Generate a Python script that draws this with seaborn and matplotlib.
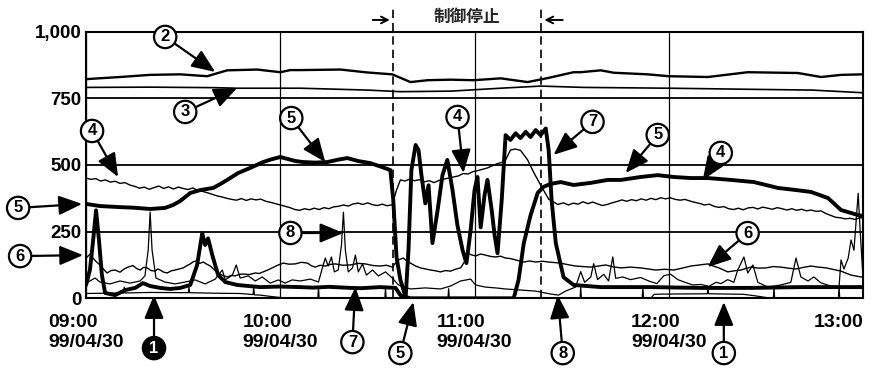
import matplotlib
matplotlib.use("Agg")
import matplotlib.pyplot as plt
import seaborn as sns
import pandas as pd

# ---------------- data (minutes after 09:00, value) ----------------
tick_minutes = [0, 60, 120, 180, 240]
tick_labels = ["09:00\n99/04/30", "10:00\n99/04/30", "11:00\n99/04/30",
               "12:00\n99/04/30", "13:00"]
y_ticks = [0, 250, 500, 750, 1000]
y_tick_labels = ["0", "250", "500", "750", "1,000"]

stop_start = 94.9   # 制御停止 begins (about 10:35)
stop_end = 140.4    # 制御停止 ends (about 11:20)
stop_title = "制御停止"

series_2 = [(0, 822), (10.5, 830), (19.8, 838), (29.1, 840), (37.4, 833), (43.6, 855),
            (52.9, 858), (60, 848), (63.1, 856), (66.2, 856), (78.6, 858), (86.9, 847),
            (94.6, 840), (100.2, 811), (105.5, 818), (112.6, 820), (119.7, 818),
            (128.1, 825), (136.4, 811), (142.6, 826), (150.6, 848), (152.8, 848),
            (159.0, 855), (163.0, 846), (173.5, 840), (180.0, 833), (192.1, 830),
            (204.4, 848), (219.9, 845), (227.0, 830), (233.2, 838), (240, 840)]

series_3 = [(0, 791), (20, 792), (40, 790), (46.7, 788), (66.2, 788), (86.9, 781),
            (97.1, 775), (112.6, 777), (128.1, 788), (140.4, 796), (153.7, 791),
            (180, 788), (204.4, 784), (224.2, 781), (240, 771)]

series_4 = [(0, 451), (1.5, 446), (3, 449), (4.5, 440), (6, 444), (7.5, 436), (9, 439),
            (10.5, 431), (12, 434), (13.5, 425), (15, 420), (16.5, 413), (18, 417),
            (19.5, 409), (21, 415), (22.5, 421), (24, 412), (25.5, 418), (27, 410),
            (28.5, 417), (30, 412), (31.5, 408), (33, 414), (34.5, 404), (36, 401),
            (37.5, 396), (39, 390), (40.5, 384), (42, 380), (43.5, 375), (45, 371),
            (46.5, 368), (48, 374), (49.5, 367), (51, 373), (52.5, 369), (54, 372),
            (55.5, 364), (57, 360), (58.5, 355), (60, 350), (61.5, 345), (63, 340),
            (64.5, 333), (66, 330), (67.5, 336), (69, 332), (70.5, 338), (72, 333),
            (73.5, 340), (75, 336), (76.5, 343), (78, 345), (79.5, 350), (81, 346),
            (82.5, 354), (84, 357), (85.5, 352), (87, 358), (88.5, 351), (90, 348),
            (91.5, 353), (93, 347), (94.6, 351), (95.9, 406), (97.1, 444), (98.5, 440),
            (100, 447), (101.5, 441), (103, 445), (104.5, 437), (106, 441), (107.5, 434),
            (109, 442), (110.5, 447), (112, 451), (113.5, 455), (115, 459), (116.5, 468),
            (118, 466), (119.5, 475), (121, 479), (122.5, 484), (124, 489), (125.5, 497),
            (127, 505), (128.5, 510), (129.6, 519), (131.1, 556), (132.5, 560),
            (134.2, 555), (136.4, 519), (138.2, 474), (140.4, 425), (142.9, 372),
            (145.7, 352), (147.5, 358), (149, 350), (150.5, 357), (152, 353), (153.5, 362),
            (155, 355), (156.5, 361), (158, 354), (159.5, 348), (161, 352), (162.5, 358),
            (164, 363), (165.5, 369), (167, 364), (168.5, 370), (170, 366), (171.5, 373),
            (173, 368), (174.5, 375), (176, 370), (177.5, 377), (179, 373), (180.5, 377),
            (182, 371), (183.5, 368), (185, 371), (186.5, 365), (188, 360), (189.5, 356),
            (191, 350), (192.5, 353), (194, 345), (195.5, 341), (197, 344), (198.5, 336),
            (200, 333), (201.5, 338), (203, 332), (204.5, 339), (206, 341), (207.5, 335),
            (209, 342), (210.5, 338), (212, 334), (213.5, 340), (215, 336), (216.5, 331),
            (218, 336), (219.5, 330), (221, 334), (222.5, 328), (224, 331), (225.5, 326),
            (227, 328), (228.5, 318), (230, 311), (231.5, 304), (233, 302), (234.5, 298),
            (236, 300), (237.5, 296), (239, 302), (240, 301)]

series_5 = [(0, 354), (4.3, 346), (10.5, 342), (14.5, 340), (19.8, 335), (24.4, 339),
            (26.9, 350), (29.1, 365), (32.2, 395), (35.3, 406), (39.3, 414), (41.4, 428),
            (43.6, 444), (47.0, 470), (50.7, 489), (54.7, 511), (56.9, 520), (60.0, 530),
            (64.6, 515), (67.1, 511), (70.8, 509), (74.5, 511), (77.9, 520), (80.7, 526),
            (84.0, 515), (87.8, 507), (91.5, 492), (94.0, 481), (94.9, 369), (95.9, 155),
            (97.1, 69), (98.7, 5), (100.2, 0), (132.1, 0), (133.6, 69), (135.2, 206),
            (137.3, 311), (139.5, 395), (141.3, 418), (143.5, 429), (146.6, 436),
            (150.6, 425), (155.9, 433), (161.1, 444), (165.2, 444), (171.3, 455),
            (176.6, 462), (181.5, 455), (186.8, 451), (192.1, 451), (199.2, 444),
            (206.3, 436), (210.0, 425), (213.7, 414), (219.3, 406), (223.9, 399),
            (229.2, 376), (233.2, 331), (236.3, 320), (238.5, 312), (240, 309)]

series_6 = [(0, 151), (1.2, 165), (2.2, 150), (3.1, 138), (4.3, 125), (5.5, 108), (6.5, 95),
            (7.7, 104), (9, 106), (10.5, 98), (11.8, 110), (13, 117), (14.5, 123),
            (15.6, 112), (16.7, 106), (17.8, 116), (18.9, 114), (20.1, 104), (21.3, 102),
            (22.2, 110), (22.9, 106), (24, 98), (25.1, 95), (26.3, 103), (27.5, 106),
            (28.7, 110), (30, 114), (31.1, 122), (32.2, 129), (33.1, 137), (34, 140),
            (35.1, 131), (36.2, 136), (37.3, 128), (38.4, 121), (39.6, 107), (40.8, 95),
            (42.2, 86), (43.6, 80), (44.9, 86), (46.1, 84), (47.4, 90), (48.6, 91),
            (50.4, 89), (52.3, 95), (53.5, 93), (54.7, 99), (56.1, 106), (57.5, 114),
            (59.2, 124), (60.9, 132), (62.7, 128), (64.6, 129), (66.5, 135), (68.4, 132),
            (69.6, 122), (70.8, 117), (72.3, 124), (73.9, 121), (75.4, 127), (77, 129),
            (79.3, 124), (81.7, 125), (84, 131), (86.3, 129), (88.6, 123), (90.9, 121),
            (92.8, 124), (94.6, 117), (95.6, 132), (96.5, 144), (98, 151), (99.1, 140),
            (100.2, 132), (101.8, 121), (103.3, 114), (104.9, 110), (106.4, 106),
            (108, 103), (109.5, 99), (111, 104), (112.6, 102), (114.1, 109), (115.7, 114),
            (116.8, 135), (117.8, 170), (119, 163), (120.3, 159), (121.9, 166),
            (123.4, 162), (125, 157), (126.5, 155), (128, 158), (129.6, 151),
            (131.1, 149), (132.7, 144), (134, 140), (135.2, 136), (137, 140),
            (138.9, 136), (140.9, 139), (142.9, 136), (144.8, 134), (146.6, 132),
            (148.9, 126), (151.2, 121), (153.5, 119), (155.9, 117), (158.2, 121),
            (160.5, 125), (162.8, 118), (165.2, 114), (168.2, 117), (171.3, 114),
            (173.6, 110), (176, 106), (178.8, 109), (181.5, 106), (184.1, 113),
            (186.8, 121), (189.5, 125), (192.1, 129), (193.8, 121), (195.5, 114),
            (196.9, 106), (198.2, 99), (200.2, 103), (202.3, 106), (203.8, 112),
            (205.4, 117), (207.7, 113), (210, 114), (212.3, 119), (214.6, 117),
            (217, 113), (219.3, 110), (221.6, 116), (223.9, 121), (226.2, 117),
            (228.6, 114), (230.9, 108), (233.2, 102), (234.8, 94), (236.3, 87),
            (238, 83), (239.4, 80), (240, 80)]

series_7 = [(0, 50), (1.2, 106), (2.2, 218), (3.1, 330), (4.0, 218), (4.9, 87), (5.9, 20),
            (9.0, 12), (12.1, 31), (15.2, 39), (17.6, 57), (19.8, 46), (22.9, 39),
            (26.0, 35), (29.1, 39), (32.2, 50), (34.3, 124), (35.9, 244), (36.8, 200),
            (37.7, 225), (39.0, 162), (40.8, 87), (43.0, 61), (46.7, 50), (53.8, 42),
            (60, 44), (66.2, 42), (70, 40), (75, 43), (81.7, 39), (85, 38), (90.9, 42),
            (95.6, 39), (97.1, 12), (98.7, 0), (99.6, 181), (100.5, 481), (101.8, 575),
            (102.7, 556), (103.6, 462), (104.8, 356), (105.8, 424), (107.0, 207),
            (108.6, 331), (110.1, 462), (111.6, 519), (113.2, 406), (114.7, 275),
            (116.3, 181), (117.5, 132), (118.8, 256), (120.0, 406), (120.9, 455),
            (121.9, 266), (123.1, 387), (124.0, 444), (125.3, 331), (126.2, 237),
            (127.1, 169), (128.4, 369), (129.6, 612), (131.1, 594), (132.7, 619),
            (134.2, 601), (135.8, 624), (137.3, 605), (138.9, 631), (140.4, 612),
            (142.0, 637), (142.9, 556), (143.8, 369), (145.1, 207), (147.5, 79),
            (150.6, 50), (159.0, 42), (174.4, 42), (189.9, 39), (205.4, 39),
            (220.8, 42), (240, 42)]

series_8 = [(0, 57), (2.8, 76), (4.3, 61), (7.4, 54), (10.5, 65), (13.6, 57), (16.7, 65),
            (18.2, 84), (19.2, 181), (19.8, 323), (20.4, 181), (21.6, 76), (24.4, 61),
            (27.5, 54), (30.6, 61), (33.7, 69), (36.8, 54), (39.9, 72), (42.1, 106),
            (43.0, 69), (45.2, 87), (46.4, 125), (47.6, 76), (50.1, 84), (52.3, 65),
            (54.4, 80), (56.9, 57), (59.4, 69), (61.5, 57), (63.7, 69), (66.2, 65),
            (69.3, 72), (71.8, 61), (73.0, 114), (73.9, 151), (74.8, 121), (75.8, 155),
            (76.7, 99), (77.9, 106), (78.9, 200), (79.5, 323), (80.1, 181), (81.0, 99),
            (82.3, 114), (83.2, 162), (84.1, 99), (85.4, 129), (86.6, 87), (88.5, 106),
            (90.3, 84), (92.5, 99), (94.6, 76), (96.5, 50), (100.2, 35), (104.8, 39),
            (109.5, 35), (112.6, 46), (115.7, 65), (118.8, 72), (120.3, 50), (123.4, 42),
            (126.5, 39), (129.6, 35), (134.2, 31), (138.9, 27), (143.5, 16), (146.0, 12),
            (148.1, 27), (151.2, 42), (152.8, 100), (154.0, 60), (155.9, 80), (156.8, 130),
            (158.0, 70), (159.9, 90), (161.4, 65), (162.7, 155), (163.6, 75), (165.8, 80),
            (168.2, 70), (171.3, 78), (173.8, 65), (176.3, 55), (178.5, 85), (180.6, 90),
            (182.8, 70), (185.0, 60), (187.4, 50), (189.9, 52), (192.4, 45), (194.6, 60),
            (196.1, 55), (198.2, 70), (200.1, 60), (201.3, 106), (203.2, 155),
            (204.4, 95), (206.0, 125), (207.5, 60), (210.6, 42), (214.6, 50),
            (217.7, 60), (219.3, 151), (220.8, 80), (223.0, 65), (224.8, 80),
            (227.0, 58), (231.0, 42), (232.6, 45), (233.2, 144), (234.1, 110),
            (235.4, 150), (236.3, 219), (237.2, 180), (238.5, 394), (239.1, 256),
            (239.9, 95)]

series_1 = [(0, 18), (5, 19), (11.6, 20), (11.8, 42), (12.0, 20), (20, 22), (31.6, 21),
            (31.8, 42), (32.0, 21), (40, 19), (47.6, 18), (51.6, 14), (51.8, 42),
            (52.0, 13), (53.8, 12), (57, 7), (60, 3), (64, 0), (71.6, 0), (71.8, 42),
            (72.0, 0), (92.3, 0), (92.5, 40), (92.7, 0), (111.8, 0), (112, 36),
            (112.2, 0), (152.6, 0), (152.8, 42), (153, 0), (171.8, 0), (172, 42),
            (172.2, 0), (174.4, 0), (175.5, 15), (180, 16), (191.9, 17), (192.1, 42),
            (192.3, 17), (203, 15), (206.3, 10), (210, 3), (212.3, 0), (212.5, 42),
            (212.7, 0), (232.4, 0), (232.6, 42), (232.8, 0), (240, 0)]

# ---------------- styling ----------------
sns.set_theme(style="white")
plt.rcParams["font.family"] = ["Liberation Sans", "DejaVu Sans"]

fig = plt.figure(figsize=(8.76, 3.68), dpi=100)
ax = fig.add_axes([0.0982, 0.1894, 0.887, 0.7245])


def draw(points, lw, z):
    df = pd.DataFrame(points, columns=["minute", "value"])
    sns.lineplot(data=df, x="minute", y="value", ax=ax, color="black", lw=lw,
                 estimator=None, sort=False, legend=False, zorder=z)


draw(series_1, 0.9, 3)
draw(series_8, 0.9, 3)
draw(series_6, 1.0, 3)
draw(series_3, 1.2, 3)
draw(series_4, 1.0, 3)
draw(series_2, 1.7, 4)
draw(series_7, 2.8, 5)
draw(series_5, 2.8, 5)

ax.set_xlim(0, 240)
ax.set_ylim(0, 1000)
ax.set_xlabel("")
ax.set_ylabel("")
ax.set_xticks(tick_minutes)
ax.set_xticklabels(tick_labels, fontsize=14, fontweight="bold", linespacing=1.3)
ax.set_yticks(y_ticks)
ax.set_yticklabels(y_tick_labels, fontsize=13.5, fontweight="bold")
for lab in ax.get_xticklabels():
    lab.set_multialignment("left")
ax.get_xticklabels()[-1].set_horizontalalignment("right")
ax.tick_params(axis="both", length=0, colors="black")
ax.tick_params(axis="x", pad=11)
ax.tick_params(axis="y", pad=3)

ax.yaxis.grid(True, color="black", lw=1.3)
ax.xaxis.grid(True, color="black", lw=0.9)
ax.set_axisbelow(True)
for sp in ax.spines.values():
    sp.set_visible(True)
    sp.set_color("black")
    sp.set_linewidth(1.5)

# control-stop markers
for xm in (stop_start, stop_end):
    ax.plot([xm, xm], [0, 1089], color="black", lw=1.2, ls=(0, (5, 3)),
            clip_on=False, zorder=6)
ax.annotate("", xy=(stop_start - 0.2, 1044), xytext=(stop_start - 7.2, 1044),
            arrowprops=dict(arrowstyle="->", color="black", lw=1.4), annotation_clip=False)
ax.annotate("", xy=(stop_end + 0.3, 1044), xytext=(stop_end + 7.7, 1044),
            arrowprops=dict(arrowstyle="->", color="black", lw=1.4), annotation_clip=False)
ax.text((stop_start + stop_end) / 2, 1055, stop_title, ha="center", va="center",
        fontsize=12, fontweight="bold", family=["Noto Sans CJK JP", "DejaVu Sans"])

# circled series callouts: (label, arrow tip minute, arrow tip value, dx, dy, filled)
callouts = [
    ("2", 39.9, 849, -50, 35, False),
    ("3", 46.7, 789, -52, -24, False),
    ("4", 9.9, 455, -26, 46, False),
    ("5", 73.9, 511, -34, 44, False),
    ("5", -1.2, 354, -64, -4, False),
    ("6", -0.9, 162, -63, -1, False),
    ("1", 21.0, 12, 0, -53, True),
    ("8", 79.5, 245, -53, 0, False),
    ("7", 83.2, 42, -3, -55, False),
    ("5", 101.1, -14, -13, -51, False),
    ("4", 116.6, 470, -6, 56, False),
    ("7", 144.4, 538, 39, 33, False),
    ("8", 145.7, 12, 5, -58, False),
    ("5", 166.7, 470, 32, 38, False),
    ("4", 190.5, 444, 18, 27, False),
    ("6", 192.0, 117, 40, 34, False),
    ("1", 197.0, -14, 0, -51, False),
]
for lab, tx, ty, dx, dy, filled in callouts:
    ax.annotate(lab, xy=(tx, ty), xytext=(dx, dy), textcoords="offset pixels",
                ha="center", va="center", fontsize=12, fontweight="bold",
                color="white" if filled else "black",
                bbox=dict(boxstyle="circle,pad=0.22", fc="black" if filled else "white",
                          ec="black", lw=1.6),
                arrowprops=dict(arrowstyle="-|>,head_length=0.65,head_width=0.27",
                                color="black", lw=1.6, mutation_scale=22,
                                shrinkA=0, shrinkB=0),
                annotation_clip=False, zorder=10)

fig.savefig("out.png", dpi=100, facecolor="white")
